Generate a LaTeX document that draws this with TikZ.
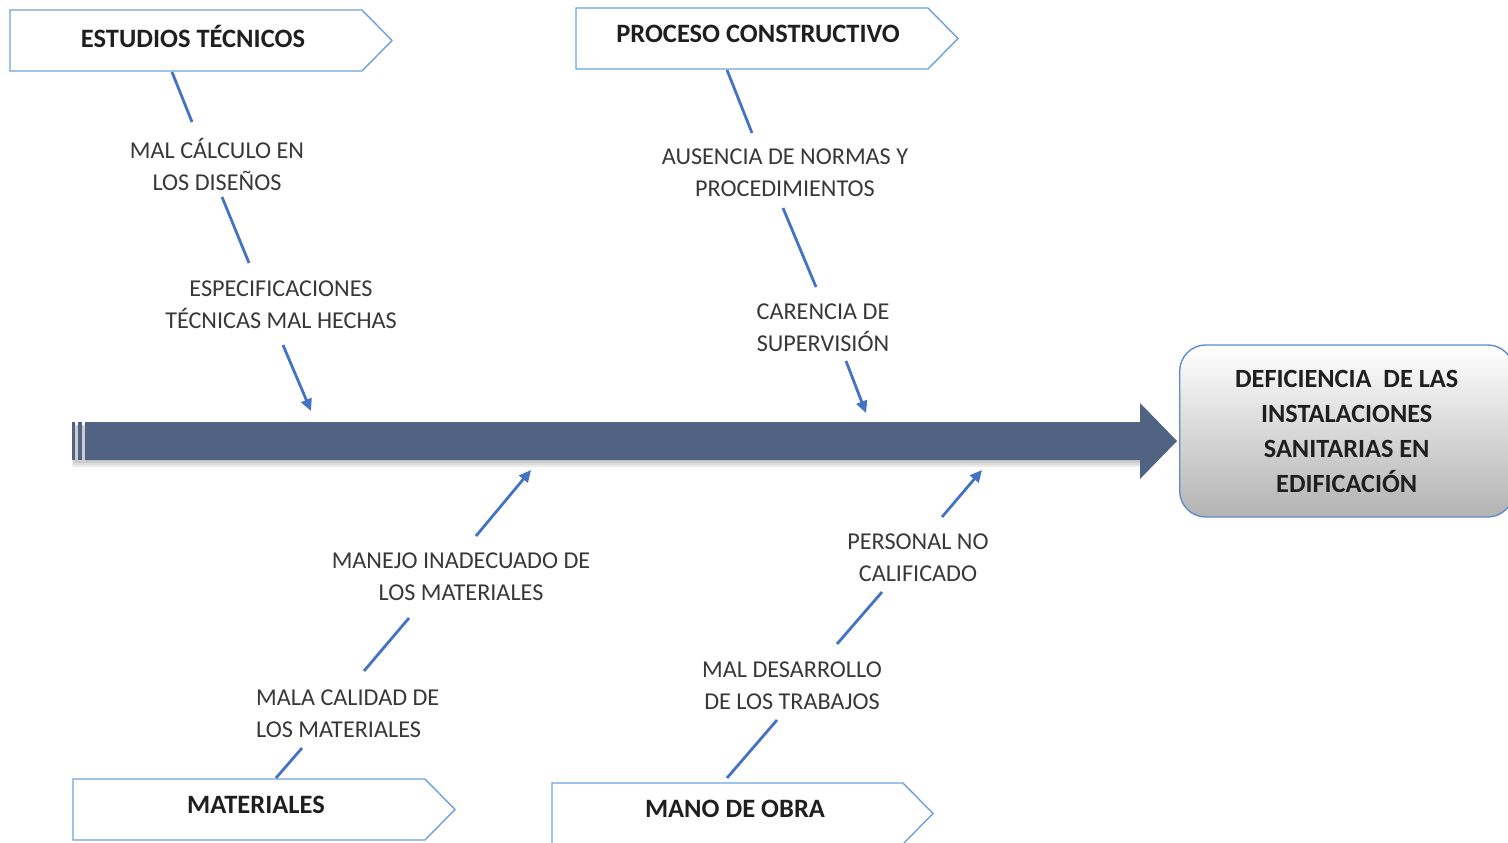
\documentclass[tikz,border=0pt]{standalone}
\usepackage{fontspec}
\setmainfont{Carlito}
\usetikzlibrary{arrows.meta}
\definecolor{boneblue}{RGB}{68,114,196}
\definecolor{catblue}{RGB}{110,160,220}
\definecolor{spine}{RGB}{80,99,130}
\definecolor{effborder}{RGB}{95,140,205}
\begin{document}
\begin{tikzpicture}[x=1pt,y=-1pt,
  cause/.style={font=\fontsize{24.2}{32}\selectfont, text=black!78, align=center, inner sep=0pt},
  catlabel/.style={font=\bfseries\fontsize{26.5}{32}\selectfont, text=black!88, inner sep=0pt},
  bone/.style={draw=boneblue, line width=2.8pt},
  arr/.style={bone, -{Triangle[length=12pt,width=11pt]}},
  catbox/.style={draw=catblue, line width=1.4pt, fill=white},
  effectbox/.style={draw=effborder, line width=1.4pt, rounded corners=26pt,
    top color=white, bottom color=black!30, align=center,
    font=\bfseries\fontsize{26.3}{35}\selectfont, text=black!88, inner sep=0pt}]
\clip (0,0) rectangle (1508,843);
\fill[white] (0,0) rectangle (1508,843);

% spine (with soft shadow)
\fill[black!8] (72,424) rectangle (1143,467);
\fill[black!14] (73,425) rectangle (1142,465);
\fill[black!20] (74,426) rectangle (1141,463);
\fill[spine] (85,422) -- (1140,422) -- (1140,403) -- (1177,441) -- (1140,479) -- (1140,460) -- (85,460) -- cycle;
\fill[spine] (72,422) rectangle (75,460);
\fill[spine] (78,422) rectangle (82,460);

% effect
\node[effectbox, minimum width=334pt, minimum height=172pt, anchor=west] (effect) at (1179,431)
  {DEFICIENCIA\ \ DE LAS\\INSTALACIONES\\SANITARIAS EN\\EDIFICACIÓN};

% category boxes
\draw[catbox] (10,10) -- (362,10) -- (392,40.5) -- (362,71) -- (10,71) -- cycle;
\node[catlabel] (estudios) at (193,36) {ESTUDIOS TÉCNICOS};
\draw[catbox] (576,8) -- (928,8) -- (958,38.5) -- (928,69) -- (576,69) -- cycle;
\node[catlabel] (proceso) at (758,34) {PROCESO CONSTRUCTIVO};
\draw[catbox] (73,779) -- (425,779) -- (455,809.5) -- (425,840) -- (73,840) -- cycle;
\node[catlabel] (materiales) at (256,805) {MATERIALES};
\draw[catbox] (552,783) -- (903,783) -- (933,813.5) -- (903,844) -- (552,844) -- cycle;
\node[catlabel] (mano) at (735,809) {MANO DE OBRA};

% causes
\node[cause] (c1) at (217,164) {MAL CÁLCULO EN\\LOS DISEÑOS};
\node[cause] (c2) at (281,305) {ESPECIFICACIONES\\TÉCNICAS MAL HECHAS};
\node[cause] (c3) at (785,173) {AUSENCIA DE NORMAS Y\\PROCEDIMIENTOS};
\node[cause] (c4) at (823,328) {CARENCIA DE\\SUPERVISIÓN};
\node[cause, align=left, anchor=west] (c5) at (256,714) {MALA CALIDAD DE\\LOS MATERIALES};
\node[cause] (c6) at (461,577) {MANEJO INADECUADO DE\\LOS MATERIALES};
\node[cause] (c7) at (792,686) {MAL DESARROLLO\\DE LOS TRABAJOS};
\node[cause] (c8) at (918,558) {PERSONAL NO\\CALIFICADO};

% bone end points
\coordinate (a1) at (172,72);   \coordinate (a2) at (192,122);
\coordinate (a3) at (222,197);  \coordinate (a4) at (249,263);
\coordinate (a5) at (283,345);  \coordinate (a6) at (311,411);
\coordinate (b1) at (727,70);   \coordinate (b2) at (752,133);
\coordinate (b3) at (783,208);  \coordinate (b4) at (816,287);
\coordinate (b5) at (846,361);  \coordinate (b6) at (866,413);
\coordinate (m1) at (276,778);  \coordinate (m2) at (302,748);
\coordinate (m3) at (364,671);  \coordinate (m4) at (409,618);
\coordinate (m5) at (476,536);  \coordinate (m6) at (531,470);
\coordinate (o1) at (727,778);  \coordinate (o2) at (777,720);
\coordinate (o3) at (837,644);  \coordinate (o4) at (882,592);
\coordinate (o5) at (942,517);  \coordinate (o6) at (982,470);

\draw[bone] (a1) -- (a2);
\draw[bone] (a3) -- (a4);
\draw[arr] (a5) -- (a6);
\draw[bone] (b1) -- (b2);
\draw[bone] (b3) -- (b4);
\draw[arr] (b5) -- (b6);
\draw[bone] (m1) -- (m2);
\draw[bone] (m3) -- (m4);
\draw[arr] (m5) -- (m6);
\draw[bone] (o1) -- (o2);
\draw[bone] (o3) -- (o4);
\draw[arr] (o5) -- (o6);
\end{tikzpicture}
\end{document}
